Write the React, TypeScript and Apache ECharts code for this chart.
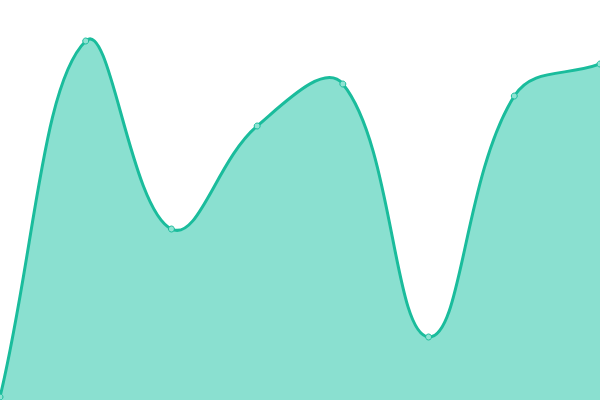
import React, { useEffect, useRef } from 'react';
import * as echarts from 'echarts';

const categories = ['1', '2', '3', '4', '5', '6', '7', '8'];
const values = [3, 359, 171, 274, 316, 63, 304, 336];

const LINE = '#1abc9c';
const AREA = '#8ae0d0';
const TENSION = 0.4;

type Pt = { x: number; y: number };

// tension spline, control points kept inside the plot area
function controlPoints(pts: Pt[], box: { x: number; y: number; width: number; height: number }) {
  const clampX = (v: number) => Math.min(box.x + box.width, Math.max(box.x, v));
  const clampY = (v: number) => Math.min(box.y + box.height, Math.max(box.y, v));
  return pts.map((cur, i) => {
    const prev = pts[i - 1] || cur;
    const next = pts[i + 1] || cur;
    const d01 = Math.hypot(cur.x - prev.x, cur.y - prev.y);
    const d12 = Math.hypot(next.x - cur.x, next.y - cur.y);
    let s01 = d01 / (d01 + d12);
    let s12 = d12 / (d01 + d12);
    if (isNaN(s01)) s01 = 0;
    if (isNaN(s12)) s12 = 0;
    const fa = TENSION * s01;
    const fb = TENSION * s12;
    return {
      prev: { x: clampX(cur.x - fa * (next.x - prev.x)), y: clampY(cur.y - fa * (next.y - prev.y)) },
      next: { x: clampX(cur.x + fb * (next.x - prev.x)), y: clampY(cur.y + fb * (next.y - prev.y)) }
    };
  });
}

const App: React.FC = () => {
  const chartRef = useRef<HTMLDivElement>(null);

  useEffect(() => {
    if (!chartRef.current) return;
    const chart = echarts.init(chartRef.current, undefined, { renderer: 'svg' });

    const renderItem = (params: any, api: any) => {
      const i = params.dataIndex;
      const c = api.coord([i, values[i]]);
      const dot = {
        type: 'circle',
        shape: { cx: c[0], cy: c[1], r: 3 },
        style: { fill: '#8fe3d3', stroke: LINE, lineWidth: 1 },
        z2: 10
      };
      if (i !== 0) return dot;

      const box = params.coordSys;
      const pts: Pt[] = values.map((v, k) => {
        const p = api.coord([k, v]);
        return { x: p[0], y: p[1] };
      });
      const cps = controlPoints(pts, box);
      let line = `M${pts[0].x},${pts[0].y}`;
      for (let k = 0; k < pts.length - 1; k++) {
        const a = cps[k].next;
        const b = cps[k + 1].prev;
        line += ` C${a.x},${a.y} ${b.x},${b.y} ${pts[k + 1].x},${pts[k + 1].y}`;
      }
      const bottom = box.y + box.height;
      const area = `${line} L${pts[pts.length - 1].x},${bottom} L${pts[0].x},${bottom} Z`;

      return {
        type: 'group',
        children: [
          { type: 'path', shape: { pathData: area }, style: { fill: AREA, stroke: null } },
          { type: 'path', shape: { pathData: line }, style: { fill: null, stroke: LINE, lineWidth: 3 } },
          dot
        ]
      };
    };

    chart.setOption({
      animation: false,
      grid: { left: 0, right: 0, top: 0, bottom: 0 },
      xAxis: {
        type: 'category',
        data: categories,
        boundaryGap: false,
        show: false
      },
      yAxis: {
        type: 'value',
        min: 0,
        max: 400,
        show: false
      },
      series: [
        {
          type: 'custom',
          renderItem,
          clip: false,
          data: values.map((v, i) => [i, v])
        }
      ]
    });
    return () => chart.dispose();
  }, []);

  return (
    <div
      ref={chartRef}
      style={{ position: 'fixed', left: 0, top: 0, width: 600, height: 400 }}
    />
  );
};

export default App;
